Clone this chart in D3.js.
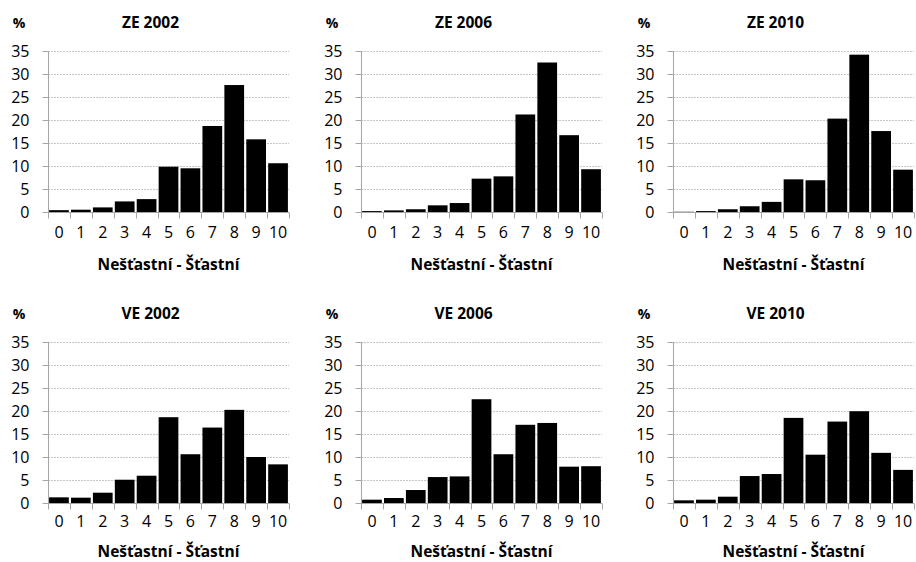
<!DOCTYPE html>
<html>
<head>
<meta charset="utf-8">
<script src="https://cdn.jsdelivr.net/npm/d3@7"></script>
<style>
  html, body { margin: 0; padding: 0; background: #fff; }
  svg { display: block; }
  text { font-family: "Open Sans", sans-serif; fill: #000; }
</style>
</head>
<body>
<svg id="chart" width="916" height="562"></svg>
<script>
const categories = ["0","1","2","3","4","5","6","7","8","9","10"];
const yTicks = [0, 5, 10, 15, 20, 25, 30, 35];
const titles = ["ZE 2002", "ZE 2006", "ZE 2010", "VE 2002", "VE 2006", "VE 2010"];
const xAxisTitle = "Nešťastní - Šťastní";
const yAxisUnit = "%";

const ze2002 = [0.4, 0.5, 1.0, 2.3, 2.8, 9.85, 9.5, 18.7, 27.6, 15.8, 10.6];
const ze2006 = [0.2, 0.35, 0.6, 1.45, 1.95, 7.25, 7.75, 21.2, 32.5, 16.7, 9.3];
const ze2010 = [0.05, 0.2, 0.6, 1.25, 2.2, 7.1, 6.9, 20.3, 34.2, 17.6, 9.2];
const ve2002 = [1.23, 1.16, 2.24, 5.06, 5.93, 18.65, 10.6, 16.4, 20.25, 10.0, 8.4];
const ve2006 = [0.72, 1.08, 2.82, 5.64, 5.78, 22.56, 10.6, 17.0, 17.4, 7.9, 8.0];
const ve2010 = [0.58, 0.72, 1.37, 5.86, 6.3, 18.5, 10.5, 17.7, 19.95, 10.9, 7.2];

const seriesList = [ze2002, ze2006, ze2010, ve2002, ve2006, ve2010];

const svg = d3.select("#chart");
const plotLefts = [48, 361, 673];
const rowTops = [51, 342];
const tickOffsets = [20, 18];
const titleOffsets = [53, 49];
const plotW = 241, plotH = 161;

seriesList.forEach((vals, i) => {
  const col = i % 3, row = Math.floor(i / 3);
  const left = plotLefts[col], top = rowTops[row];
  const g = svg.append("g").attr("transform", `translate(${left},${top})`);

  const x = d3.scaleBand().domain(categories).range([0, plotW]).paddingInner(0.1).paddingOuter(0.05);
  const xEdges = d3.scaleLinear().domain([0, categories.length]).range([0, plotW]);
  const y = d3.scaleLinear().domain([0, 35]).range([plotH, 0]);

  // gridlines
  g.append("g").selectAll("line").data(yTicks.filter(t => t > 0)).join("line")
    .attr("x1", 0).attr("x2", plotW)
    .attr("y1", d => Math.round(y(d)) + 0.5).attr("y2", d => Math.round(y(d)) + 0.5)
    .attr("stroke", "#c6c6c6").attr("stroke-width", 1).attr("stroke-dasharray", "2,1");

  // bars
  g.append("g").selectAll("rect").data(vals).join("rect")
    .attr("x", (d, k) => x(categories[k]))
    .attr("width", x.bandwidth())
    .attr("y", d => y(d))
    .attr("height", d => plotH - y(d))
    .attr("fill", "#000");

  // y axis
  const yAxis = d3.axisLeft(y).tickValues(yTicks).tickSize(6).tickPadding(13);
  const ya = g.append("g").attr("transform", "translate(0.5,0)").call(yAxis);
  ya.select(".domain").attr("stroke", "#a6a6a6").attr("d", `M-0,${plotH}V0`);
  ya.selectAll(".tick line").attr("stroke", "#a6a6a6");
  ya.selectAll(".tick text").attr("font-size", 16).attr("font-family", "'Open Sans', sans-serif").attr("fill", "#000");

  // x axis line + boundary ticks
  const xa = g.append("g").attr("transform", `translate(0,${plotH + 0.5})`);
  xa.append("line").attr("x1", 0).attr("x2", plotW).attr("stroke", "#a6a6a6");
  xa.selectAll("line.tk").data(d3.range(categories.length + 1)).join("line").attr("class", "tk")
    .attr("x1", d => Math.round(xEdges(d)) + 0.5).attr("x2", d => Math.round(xEdges(d)) + 0.5)
    .attr("y1", 0).attr("y2", 6).attr("stroke", "#a6a6a6");
  xa.selectAll("text").data(categories).join("text")
    .attr("x", d => x(d) + x.bandwidth() / 2)
    .attr("y", tickOffsets[row]).attr("dy", "0.35em")
    .attr("text-anchor", "middle").attr("font-size", 16).text(d => d);

  // x axis title
  g.append("text").attr("x", plotW / 2).attr("y", plotH + titleOffsets[row]).attr("dy", "0.35em")
    .attr("text-anchor", "middle").attr("font-size", 15.5).attr("font-weight", "bold").text(xAxisTitle);

  // % label
  g.append("text").attr("x", -29).attr("y", -28).attr("dy", "0.35em")
    .attr("text-anchor", "middle").attr("font-size", 14).attr("font-weight", "bold").text(yAxisUnit);

  // title
  g.append("text").attr("x", plotW / 2 - 18).attr("y", -28.5).attr("dy", "0.35em")
    .attr("text-anchor", "middle").attr("font-size", 15.5).attr("font-weight", "bold").text(titles[i]);
});
</script>
</body>
</html>
